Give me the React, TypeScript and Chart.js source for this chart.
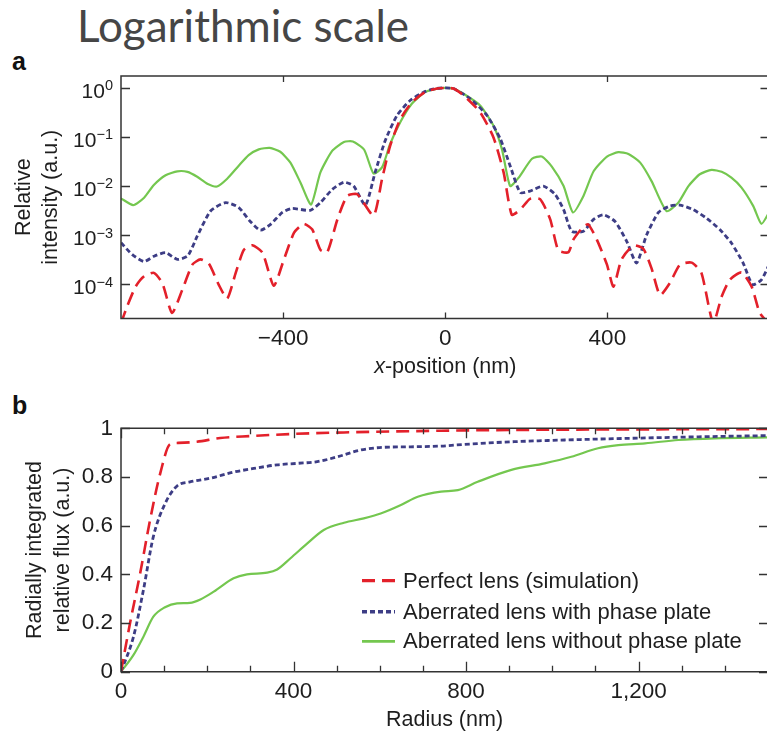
import React, { useEffect, useRef } from "react";
import { Chart, registerables } from "chart.js";

Chart.register(...registerables);

const FONT = "'Liberation Sans', Arial, Helvetica, sans-serif";
const TEXT = "#1e1e1e";
const AXIS = "#333333";
const RED = "#e3202a";
const BLUE = "#3d3d85";
const GREEN = "#74c74f";

const seriesLabels = [
  "Perfect lens (simulation)",
  "Aberrated lens with phase plate",
  "Aberrated lens without phase plate",
];

// ---------- Panel a: relative intensity vs x-position (nm), log scale ----------
const xTicksA = [-400, 0, 400];
const yTicksA = [1e-4, 1e-3, 1e-2, 1e-1, 1];

const perfectPosA = [-800, -785, -764, -743, -719, -698, -674, -649, -624, -604, -583, -559, -538, -517, -497, -476, -451, -423, -398, -373, -349, -328, -308, -291, -266, -242, -217, -177, -156, -136, -111, -82, -49, -20, 0, 20, 45, 86, 119, 144, 164, 185, 209, 234, 259, 279, 304, 316, 341, 353, 374, 399, 415, 435, 464, 489, 509, 530, 554, 579, 608, 632, 661, 682, 702, 731, 756, 776, 800];
const perfectIntA = [1.6e-5, 3.5e-5, 8.9e-5, 1.45e-4, 1.7e-4, 1.05e-4, 2.6e-5, 7.6e-5, 2.5e-4, 3.2e-4, 2.6e-4, 9.8e-5, 5.1e-5, 1.7e-4, 5.0e-4, 6.2e-4, 4.4e-4, 9.3e-5, 3.2e-4, 1.12e-3, 1.7e-3, 1.3e-3, 5.0e-4, 4.5e-4, 2.1e-3, 6.3e-3, 6.8e-3, 2.5e-3, 0.0138, 0.066, 0.23, 0.51, 0.83, 0.97, 1.0, 0.97, 0.71, 0.32, 0.098, 0.019, 2.6e-3, 3.3e-3, 5.5e-3, 5.4e-3, 2.1e-3, 4.9e-4, 4.5e-4, 8.1e-4, 1.5e-3, 1.66e-3, 8.1e-4, 2.5e-4, 8.9e-5, 3.2e-4, 6.2e-4, 5.2e-4, 2.1e-4, 6.0e-5, 1.05e-4, 2.5e-4, 2.75e-4, 1.7e-4, 1.6e-5, 5.6e-5, 1.23e-4, 1.74e-4, 8.9e-5, 2.6e-5, 1.5e-5];

const withPlatePosA = [-800, -772, -743, -719, -690, -661, -635, -612, -579, -542, -510, -481, -456, -431, -402, -378, -333, -308, -279, -250, -226, -197, -173, -148, -119, -86, -49, -20, 0, 20, 62, 103, 136, 160, 185, 209, 242, 271, 292, 312, 341, 366, 390, 419, 448, 472, 497, 526, 554, 579, 612, 645, 678, 706, 735, 758, 780, 800];
const withPlateIntA = [7.0e-4, 4.0e-4, 2.9e-4, 3.7e-4, 4.4e-4, 3.2e-4, 3.8e-4, 9.5e-4, 3.1e-3, 4.6e-3, 3.7e-3, 1.9e-3, 1.26e-3, 1.66e-3, 2.9e-3, 3.5e-3, 3.2e-3, 4.6e-3, 8.5e-3, 0.012, 0.010, 4.1e-3, 0.019, 0.085, 0.275, 0.56, 0.85, 0.98, 1.0, 0.97, 0.60, 0.275, 0.091, 0.026, 7.4e-3, 7.9e-3, 0.010, 6.8e-3, 3.3e-3, 1.2e-3, 1.2e-3, 2.1e-3, 2.6e-3, 1.9e-3, 7.4e-4, 2.7e-4, 1.02e-3, 2.9e-3, 3.9e-3, 4.1e-3, 3.3e-3, 2.2e-3, 1.29e-3, 6.9e-4, 2.7e-4, 9.8e-5, 1.23e-4, 2.6e-4];

const noPlatePosA = [-800, -770, -743, -719, -690, -661, -636, -612, -587, -563, -538, -510, -485, -460, -433, -407, -382, -357, -331, -308, -279, -250, -228, -200, -177, -156, -136, -111, -82, -49, -20, 0, 20, 45, 86, 119, 140, 160, 181, 214, 238, 263, 292, 315, 341, 366, 399, 427, 452, 481, 509, 546, 575, 600, 628, 657, 682, 706, 731, 760, 780, 800];
const noPlateIntA = [0.0056, 0.0041, 0.0058, 0.0105, 0.0166, 0.020, 0.0195, 0.0155, 0.0112, 0.0098, 0.0141, 0.0257, 0.0427, 0.056, 0.060, 0.050, 0.030, 0.0117, 0.0042, 0.019, 0.052, 0.079, 0.081, 0.055, 0.018, 0.024, 0.072, 0.20, 0.48, 0.83, 0.97, 1.0, 0.97, 0.76, 0.44, 0.17, 0.056, 0.010, 0.0148, 0.036, 0.040, 0.025, 0.010, 0.0029, 0.0063, 0.020, 0.040, 0.049, 0.045, 0.030, 0.0126, 0.0031, 0.0046, 0.010, 0.0174, 0.0214, 0.0195, 0.0148, 0.0093, 0.0039, 0.0017, 0.0030];

// ---------- Panel b: radially integrated relative flux vs radius (nm) ----------
const perfectRadB = [0, 21, 44, 67, 91, 114, 133, 176, 230, 300, 401, 517, 742, 900, 1100, 1300, 1500];
const perfectFluxB = [0, 0.20, 0.40, 0.62, 0.815, 0.935, 0.94, 0.945, 0.96, 0.968, 0.977, 0.983, 0.99, 0.993, 0.995, 0.996, 0.997];

const withPlateRadB = [0, 29, 52, 75, 102, 130, 160, 207, 261, 308, 362, 409, 455, 502, 556, 610, 672, 742, 796, 912, 1029, 1184, 1339, 1500];
const withPlateFluxB = [0, 0.144, 0.336, 0.555, 0.69, 0.763, 0.78, 0.795, 0.82, 0.835, 0.85, 0.856, 0.863, 0.883, 0.911, 0.922, 0.924, 0.927, 0.934, 0.945, 0.952, 0.959, 0.965, 0.97];

const noPlateRadB = [0, 29, 52, 75, 102, 130, 160, 184, 215, 261, 292, 339, 362, 393, 432, 470, 517, 563, 602, 649, 688, 742, 781, 827, 905, 982, 1044, 1106, 1153, 1215, 1292, 1377, 1500];
const noPlateFluxB = [0, 0.069, 0.144, 0.226, 0.265, 0.281, 0.283, 0.297, 0.329, 0.384, 0.40, 0.407, 0.42, 0.466, 0.527, 0.582, 0.612, 0.63, 0.65, 0.685, 0.719, 0.74, 0.746, 0.78, 0.829, 0.856, 0.883, 0.918, 0.931, 0.938, 0.952, 0.959, 0.963];

const pts = (xs: number[], ys: number[]) => xs.map((x, i) => ({ x, y: ys[i] }));

const styles = [
  { borderColor: RED, borderDash: [13, 7], borderWidth: 2.6 },
  { borderColor: BLUE, borderDash: [5, 3], borderWidth: 2.8 },
  { borderColor: GREEN, borderDash: [] as number[], borderWidth: 2.2 },
];

function framePlugin(xMajor: number, xMinor: number, yLen: number) {
  return {
    id: "frame",
    afterDraw(chart: any) {
      const { ctx, chartArea: a, scales } = chart;
      const xs = scales.x;
      const ys = scales.y;
      ctx.save();
      ctx.strokeStyle = AXIS;
      ctx.lineWidth = 1.5;
      ctx.beginPath();
      ctx.rect(a.left, a.top, a.right - a.left, a.bottom - a.top);
      ctx.stroke();
      ctx.beginPath();
      xs.ticks.forEach((t: any) => {
        const px = Math.round(xs.getPixelForValue(t.value)) + 0.5;
        const len = t.label === "" ? xMinor : xMajor;
        ctx.moveTo(px, a.bottom);
        ctx.lineTo(px, a.bottom - len);
        ctx.moveTo(px, a.top);
        ctx.lineTo(px, a.top + len);
      });
      ys.ticks.forEach((t: any) => {
        const py = Math.round(ys.getPixelForValue(t.value)) + 0.5;
        ctx.moveTo(a.left, py);
        ctx.lineTo(a.left + yLen, py);
        ctx.moveTo(a.right, py);
        ctx.lineTo(a.right - yLen, py);
      });
      ctx.lineWidth = 1.3;
      ctx.stroke();
      ctx.restore();
    },
  };
}

const logLabelsPlugin = {
  id: "logLabels",
  afterDraw(chart: any) {
    const { ctx, chartArea: a, scales } = chart;
    const ys = scales.y;
    ctx.save();
    ctx.fillStyle = TEXT;
    ctx.textAlign = "left";
    ctx.textBaseline = "alphabetic";
    ys.ticks.forEach((t: any) => {
      const exp = Math.round(Math.log10(t.value));
      const sup = exp === 0 ? "0" : "\u2212" + Math.abs(exp);
      ctx.font = `14.5px ${FONT}`;
      const ws = ctx.measureText(sup).width;
      ctx.font = `21px ${FONT}`;
      const wb = ctx.measureText("10").width;
      const right = a.left - 8;
      const py = ys.getPixelForValue(t.value);
      ctx.fillText("10", right - ws - wb, py + 9.7);
      ctx.font = `14.5px ${FONT}`;
      ctx.fillText(sup, right - ws, py + 2.4);
    });
    ctx.restore();
  },
};

const xTitleAPlugin = {
  id: "xTitleA",
  afterDraw(chart: any) {
    const { ctx, chartArea: a } = chart;
    ctx.save();
    ctx.fillStyle = TEXT;
    ctx.textBaseline = "middle";
    ctx.textAlign = "left";
    const italic = `italic 21.5px ${FONT}`;
    const normal = `21.5px ${FONT}`;
    ctx.font = italic;
    const w1 = ctx.measureText("x").width;
    ctx.font = normal;
    const rest = "-position (nm)";
    const w2 = ctx.measureText(rest).width;
    const cx = (a.left + a.right) / 2;
    const y = a.bottom + 48.5;
    const x0 = cx - (w1 + w2) / 2;
    ctx.font = italic;
    ctx.fillText("x", x0, y);
    ctx.font = normal;
    ctx.fillText(rest, x0 + w1, y);
    ctx.restore();
  },
};

const legendBPlugin = {
  id: "legendB",
  afterDraw(chart: any) {
    const { ctx, chartArea: a } = chart;
    const rows = [152.4, 183.5, 213];
    ctx.save();
    chart.data.datasets.forEach((ds: any, i: number) => {
      const y = a.top + rows[i];
      ctx.strokeStyle = ds.borderColor;
      ctx.lineWidth = ds.borderWidth + 0.6;
      ctx.setLineDash(ds.borderDash || []);
      ctx.beginPath();
      ctx.moveTo(a.left + 241, y);
      ctx.lineTo(a.left + 274, y);
      ctx.stroke();
      ctx.setLineDash([]);
      ctx.fillStyle = TEXT;
      ctx.font = `22px ${FONT}`;
      ctx.textAlign = "left";
      ctx.textBaseline = "middle";
      ctx.fillText(ds.label, a.left + 282, y + 1);
    });
    ctx.restore();
  },
};

export default function App() {
  const refA = useRef<HTMLCanvasElement>(null);
  const refB = useRef<HTMLCanvasElement>(null);

  useEffect(() => {
    const tickFont = { family: FONT, size: 22.5 };
    const noGrid = { display: false, drawTicks: false };

    const chartA = new Chart(refA.current as HTMLCanvasElement, {
      type: "line",
      data: {
        datasets: [
          { label: seriesLabels[0], data: pts(perfectPosA, perfectIntA), ...styles[0] },
          { label: seriesLabels[1], data: pts(withPlatePosA, withPlateIntA), ...styles[1] },
          { label: seriesLabels[2], data: pts(noPlatePosA, noPlateIntA), ...styles[2] },
        ],
      },
      options: {
        responsive: false,
        animation: false,
        devicePixelRatio: 1,
        layout: { padding: { top: 16, right: 10.5, left: 0, bottom: 0 } },
        elements: { point: { radius: 0 }, line: { tension: 0.2, fill: false } },
        plugins: { legend: { display: false }, tooltip: { enabled: false } },
        scales: {
          x: {
            type: "linear",
            min: -800,
            max: 800,
            grid: noGrid,
            border: { display: false },
            afterBuildTicks: (s: any) => {
              s.ticks = xTicksA.map((v) => ({ value: v }));
            },
            afterFit: (s: any) => {
              s.height = 71.5;
            },
            ticks: {
              font: tickFont,
              color: TEXT,
              padding: 6.4,
              maxRotation: 0,
              autoSkip: false,
              callback: (v: any) => (v < 0 ? "\u2212" + Math.abs(v) : String(v)),
            },
          },
          y: {
            type: "logarithmic",
            min: 2e-5,
            max: 1.75,
            grid: noGrid,
            border: { display: false },
            afterBuildTicks: (s: any) => {
              s.ticks = yTicksA.map((v) => ({ value: v }));
            },
            afterFit: (s: any) => {
              s.width = 121;
            },
            ticks: { display: false },
            title: {
              display: true,
              text: ["Relative", "intensity (a.u.)"],
              color: TEXT,
              font: { family: FONT, size: 21.5, lineHeight: 1.25 },
              padding: { top: 10.5, bottom: 0 },
            },
          },
        },
      } as any,
      plugins: [framePlugin(6, 6, 9), logLabelsPlugin, xTitleAPlugin],
    });

    const chartB = new Chart(refB.current as HTMLCanvasElement, {
      type: "line",
      data: {
        datasets: [
          { label: seriesLabels[0], data: pts(perfectRadB, perfectFluxB), ...styles[0] },
          { label: seriesLabels[1], data: pts(withPlateRadB, withPlateFluxB), ...styles[1] },
          { label: seriesLabels[2], data: pts(noPlateRadB, noPlateFluxB), ...styles[2] },
        ],
      },
      options: {
        responsive: false,
        animation: false,
        devicePixelRatio: 1,
        layout: { padding: { top: 38.3, right: 12, left: 0, bottom: 0 } },
        elements: { point: { radius: 0 }, line: { cubicInterpolationMode: "monotone", fill: false } },
        plugins: { legend: { display: false }, tooltip: { enabled: false } },
        scales: {
          x: {
            type: "linear",
            min: 0,
            max: 1500,
            grid: noGrid,
            border: { display: false },
            afterFit: (s: any) => {
              s.height = 62.3;
            },
            ticks: {
              stepSize: 100,
              font: tickFont,
              color: TEXT,
              padding: 6.8,
              maxRotation: 0,
              autoSkip: false,
              callback: (v: any) => (v % 400 === 0 ? Number(v).toLocaleString("en-US") : ""),
            },
            title: {
              display: true,
              text: "Radius (nm)",
              color: TEXT,
              font: { family: FONT, size: 21.5 },
              padding: { top: 0, bottom: 1.1 },
            },
          },
          y: {
            type: "linear",
            min: 0,
            max: 1,
            grid: noGrid,
            border: { display: false },
            afterFit: (s: any) => {
              s.width = 121;
            },
            ticks: {
              stepSize: 0.2,
              font: tickFont,
              color: TEXT,
              padding: 8,
              callback: (v: any) => String(Number(Number(v).toFixed(1))),
            },
            title: {
              display: true,
              text: ["Radially integrated", "relative flux (a.u.)"],
              color: TEXT,
              font: { family: FONT, size: 21.5, lineHeight: 1.3 },
              padding: { top: 21.5, bottom: 0 },
            },
          },
        },
      } as any,
      plugins: [framePlugin(10, 6, 9), legendBPlugin],
    });

    return () => {
      chartA.destroy();
      chartB.destroy();
    };
  }, []);

  return (
    <div
      style={{
        position: "absolute",
        left: 0,
        top: 0,
        width: 767,
        height: 734,
        overflow: "hidden",
        background: "#ffffff",
      }}
    >
      <div
        style={{
          position: "absolute",
          left: 77,
          top: 3,
          fontFamily: "Lato, 'Open Sans', sans-serif",
          fontSize: 44,
          lineHeight: 1,
          color: "#464646",
          whiteSpace: "nowrap",
        }}
      >
        Logarithmic scale
      </div>
      <div
        style={{
          position: "absolute",
          left: 12,
          top: 49,
          fontFamily: FONT,
          fontWeight: "bold",
          fontSize: 25,
          lineHeight: 1,
          color: "#111",
        }}
      >
        a
      </div>
      <div
        style={{
          position: "absolute",
          left: 12,
          top: 393,
          fontFamily: FONT,
          fontWeight: "bold",
          fontSize: 25,
          lineHeight: 1,
          color: "#111",
        }}
      >
        b
      </div>
      <canvas
        ref={refA}
        width={780}
        height={330}
        style={{ position: "absolute", left: 0, top: 60, width: 780, height: 330 }}
      />
      <canvas
        ref={refB}
        width={780}
        height={344}
        style={{ position: "absolute", left: 0, top: 390, width: 780, height: 344 }}
      />
    </div>
  );
}
